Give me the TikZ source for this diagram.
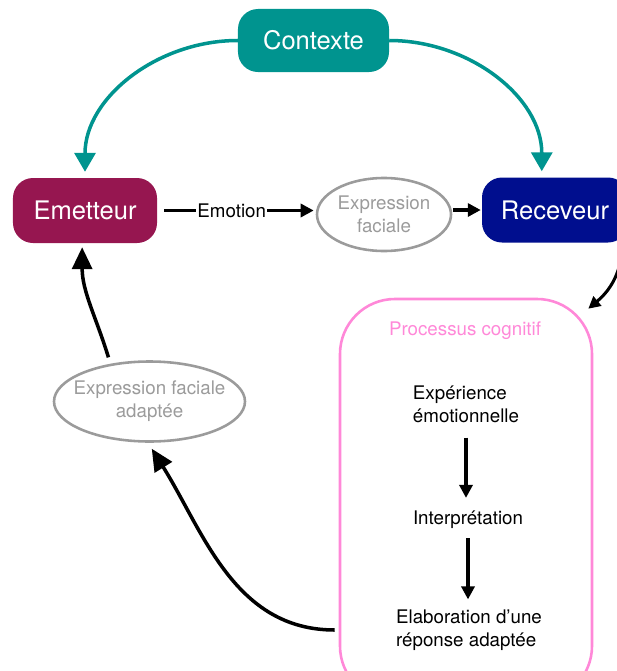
\documentclass[tikz,border=0pt]{standalone}
\usepackage{fontspec}
\setmainfont{TeX Gyre Heros}
\usepackage{xcolor}
\usepackage{tikz}
\usetikzlibrary{arrows.meta, shapes.geometric, calc}
\definecolor{ctxteal}{RGB}{0,148,143}
\definecolor{emtred}{RGB}{150,22,80}
\definecolor{rcvblue}{RGB}{0,14,142}
\definecolor{cogpink}{RGB}{255,136,216}
\definecolor{softgray}{RGB}{155,155,155}
\newcommand{\bigtxt}{\fontsize{21.8}{25}\selectfont}
\newcommand{\smalltxt}{\fontsize{16}{19.6}\selectfont}

\begin{document}
\begin{tikzpicture}[x=0.03cm, y=-0.03cm,
    every node/.style={font=\smalltxt},
    actor/.style={rounded corners=0.6cm, minimum width=4.38cm, minimum height=1.95cm, text=white, font=\bigtxt},
    faceell/.style={ellipse, draw=softgray, line width=2.2pt, text=softgray, inner ysep=-2pt, align=center},
    stage/.style={inner sep=0pt, align=left},
    tealarrow/.style={draw=ctxteal, line width=3pt, -{Triangle[length=0.57cm, width=0.63cm]}},
    bigarrow/.style={line width=3pt, -{Triangle[length=0.66cm, width=0.6cm]}},
    smallarrow/.style={line width=3pt, -{Triangle[length=0.39cm, width=0.39cm]}}]

    % Frame of the picture
    \useasboundingbox (0,0) rectangle (617,671);
    \clip (0,0) rectangle (617,671);

    % The three main boxes
    \node[actor, fill=ctxteal, minimum width=4.53cm, minimum height=1.89cm] (ctx) at (313.5,40.5) {Contexte};
    \node[actor, fill=emtred, minimum width=4.32cm] (emt) at (85,210.5) {Emetteur};
    \node[actor, fill=rcvblue] (rcv) at (555,210) {Receveur};

    % Facial expressions (gray ellipses)
    \node[faceell, inner xsep=0pt, minimum width=4.02cm, minimum height=2.19cm] (fac) at (384,214.5) {Expression\\faciale};
    \node[faceell, inner xsep=-9pt, minimum width=5.73cm, minimum height=2.4cm] (efa) at (149.5,401.5) {Expression faciale\\adaptée};

    % Cognitive process box and its stages
    \node[draw=cogpink, line width=2.2pt, rounded corners=1.65cm, minimum width=7.56cm, minimum height=12.06cm] (pc) at (466,500) {};
    \node[text=cogpink] (pctitle) at (465,331) {Processus cognitif};
    \node[stage] (exp) at (466,404) {Expérience\\émotionnelle};
    \node[stage] (interp) at (468,520) {Interprétation};
    \node[stage] (elab) at (469,630) {Elaboration d’une\\réponse adaptée};

    % Context acts on both actors
    \draw[tealarrow, shorten >=0.18cm] (ctx.west) to[out=180, in=90] (emt.north);
    \draw[tealarrow, shorten >=0.18cm] (ctx.east) to[out=0, in=90] (rcv.112);

    % Emotion sent to the receiver
    \draw[smallarrow, shorten <=0.21cm, shorten >=0.06cm] (emt.east) -- (emt.east -| fac.west)
        node[pos=0.47, fill=white, inner xsep=1pt, inner ysep=1pt] (emolbl) {Emotion};
    \draw[smallarrow, shorten <=0.03cm, shorten >=0.03cm] (fac.east |- rcv.west) -- (rcv.west);

    % Receiver into the cognitive process
    \draw[line width=2.6pt, -{Triangle[length=0.36cm, width=0.36cm]}]
        ($(rcv.south east)+(-6,0)$) to[out=-90, in=40] ($(pc.north east)+(-5,11)$);

    % Stages of the cognitive process
    \draw[smallarrow, shorten <=0.45cm, shorten >=0.39cm] (exp.south) -- (exp.south |- interp.north);
    \draw[smallarrow, shorten <=0.27cm, shorten >=0.3cm] (interp.south) -- (interp.south |- elab.north);

    % Back to the emitter
    \draw[bigarrow, shorten <=0.12cm, shorten >=0.21cm] (pc.west |- elab) to[out=180, in=-58] (efa.-92);
    \draw[bigarrow, shorten <=0.2cm, shorten >=0.12cm] (efa.136) to[out=107, in=-90] (emt.-95);

\end{tikzpicture}
\end{document}
